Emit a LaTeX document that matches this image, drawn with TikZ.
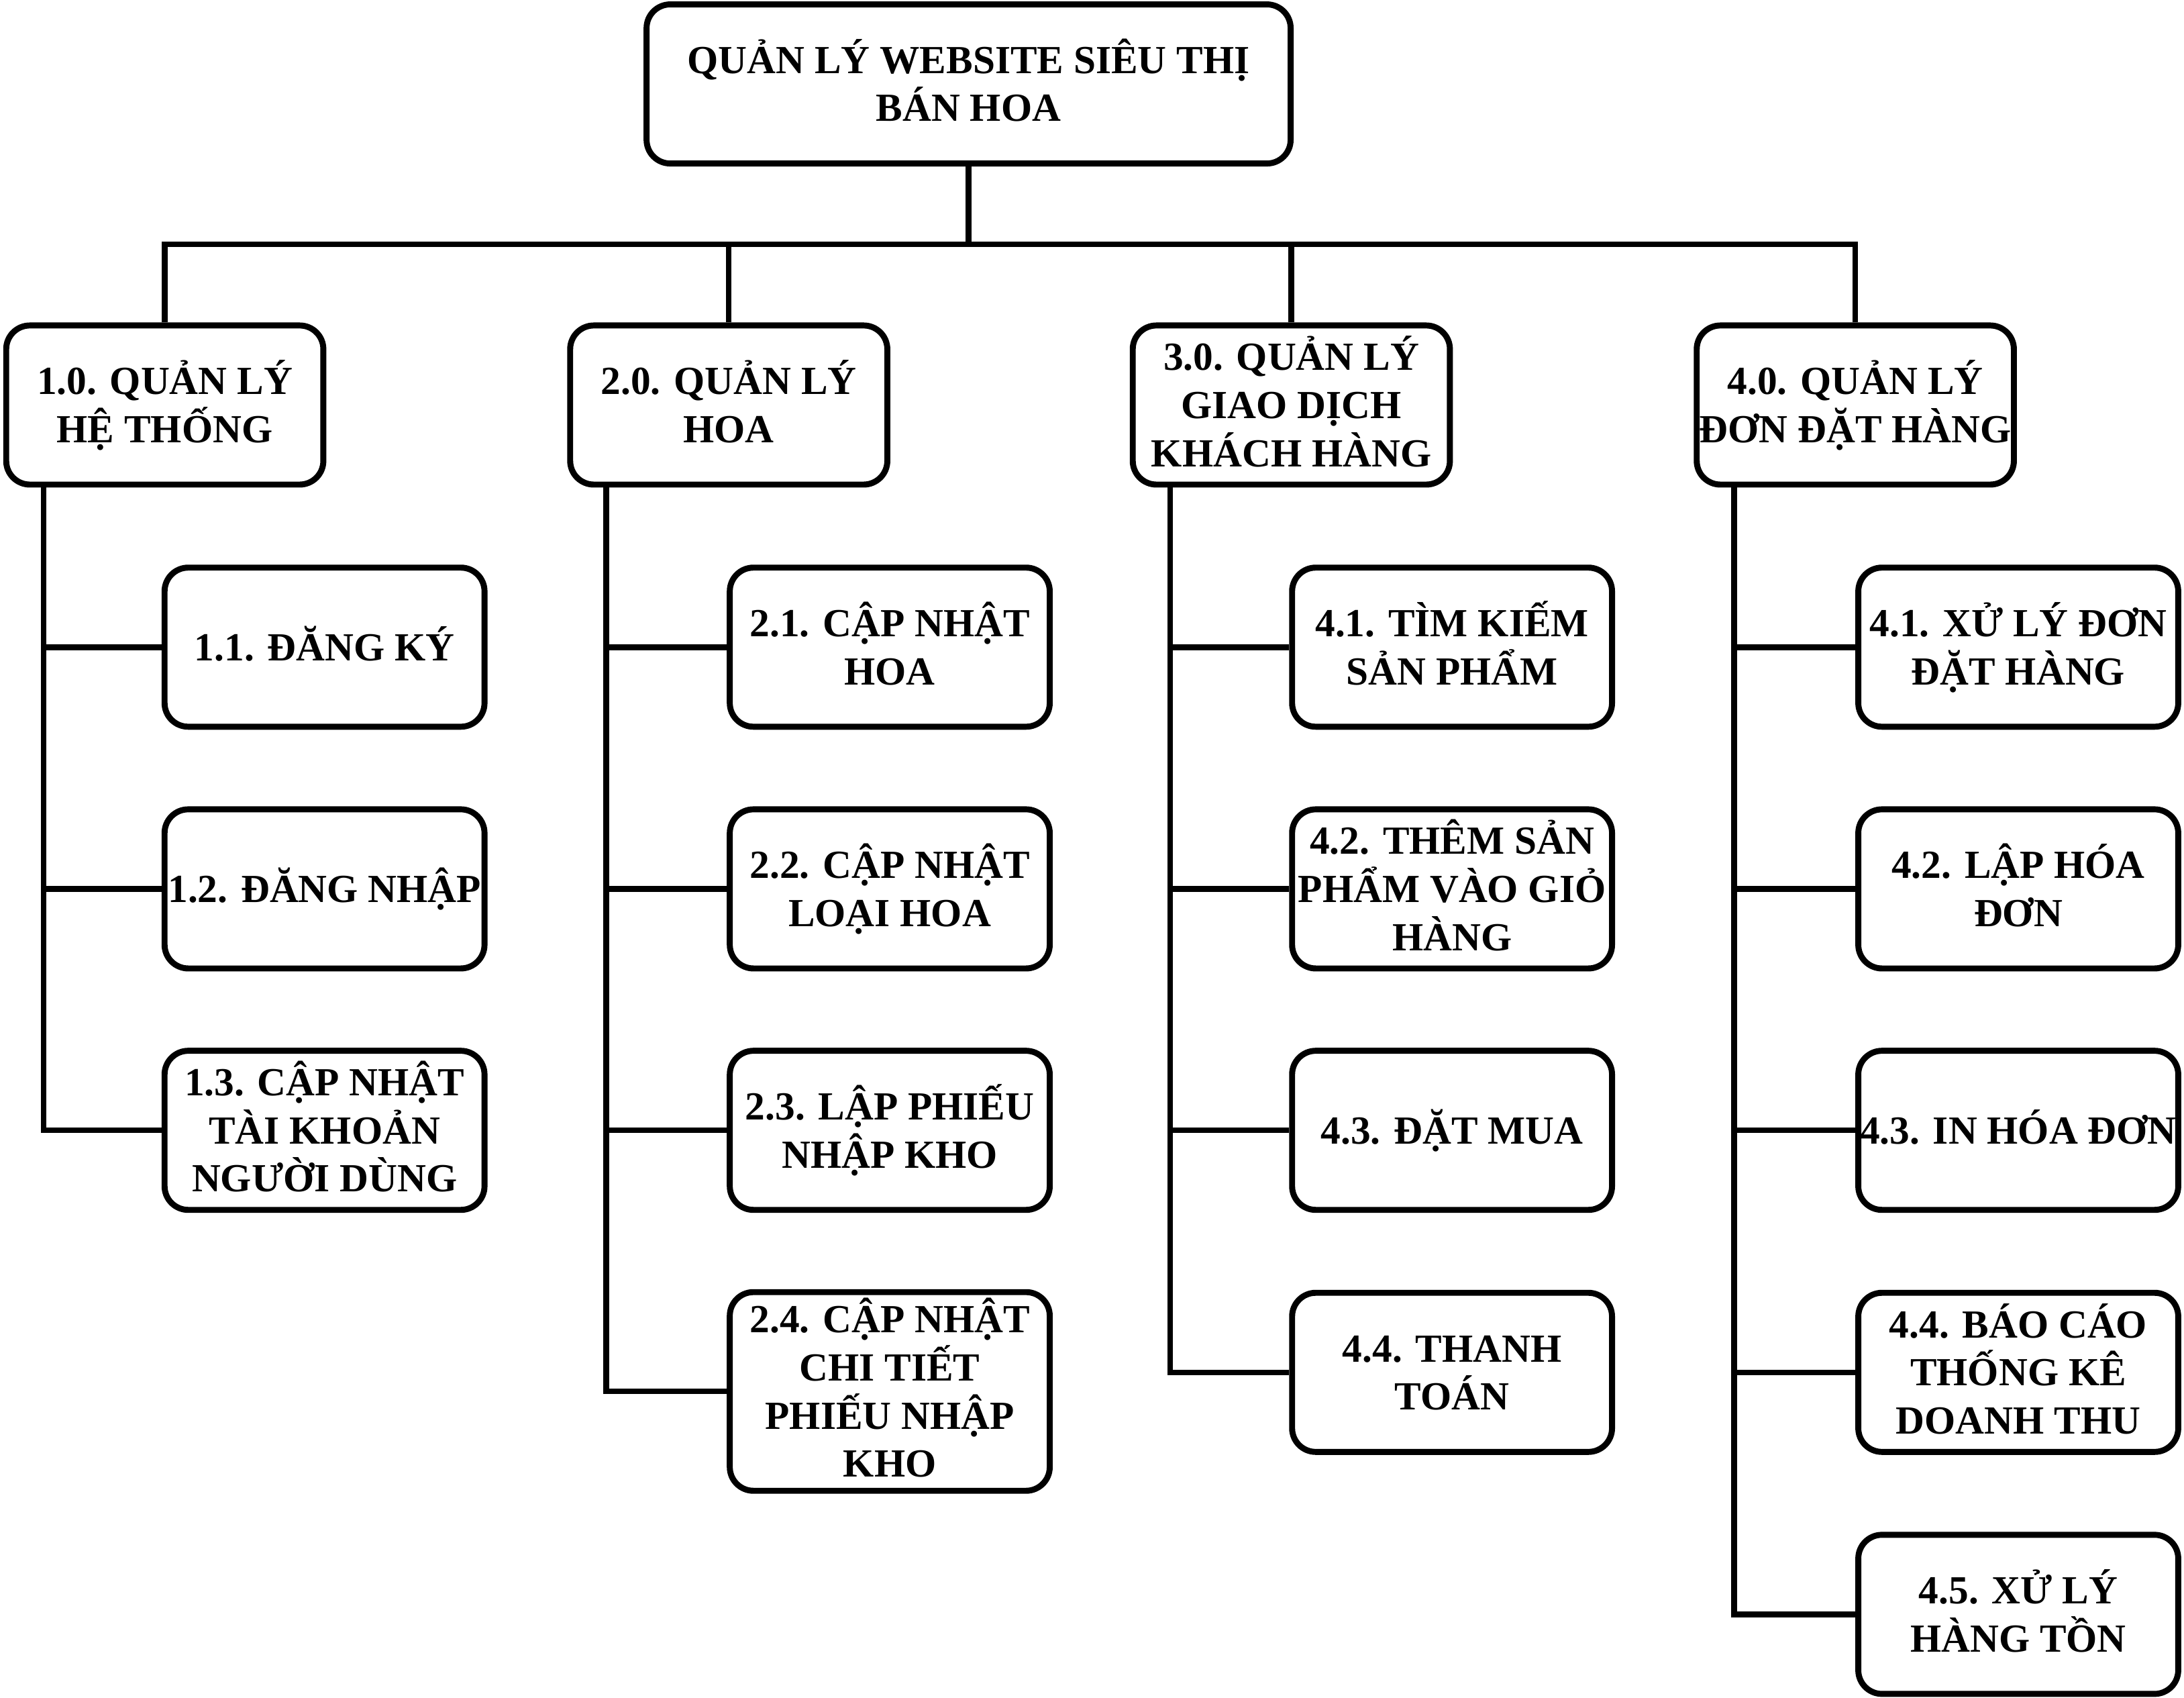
\documentclass[tikz,border=0pt]{standalone}
\usepackage{fontspec}
\setmainfont{Liberation Serif}
\newcommand{\rl}[1]{\rule[-6.2pt]{0pt}{31.7pt}\smash{#1}}
\tikzset{
  box/.style={draw, line width=4.3pt, rounded corners=17pt, align=center,
    inner sep=0pt, font=\fontsize{28.6pt}{34.5pt}\selectfont\bfseries},
  rootbox/.style={box, minimum width=462.4pt, minimum height=114.2pt},
  lvbox/.style={box, minimum width=227.7pt, minimum height=114.2pt},
  cbox/.style={box, minimum width=229.7pt, minimum height=114.2pt},
  link/.style={line width=4.1pt, line join=miter}
}
\begin{document}
\begin{tikzpicture}[x=1pt,y=-1pt]
\useasboundingbox[fill=white] (0,0) rectangle (1568,1218.3);
% root
\node[rootbox] (root) at (695.4,60.25) {\rl{QUẢN LÝ WEBSITE SIÊU THỊ}\\\rl{BÁN HOA}};
% level 1
\node[lvbox] (l1) at (118.3,290.7) {\rl{1.0. QUẢN LÝ}\\\rl{HỆ THỐNG}};
\node[lvbox] (l2) at (523.2,290.7) {\rl{2.0. QUẢN LÝ}\\\rl{HOA}};
\node[lvbox] (l3) at (927.1,290.7) {\rl{3.0. QUẢN LÝ}\\\rl{GIAO DỊCH}\\\rl{KHÁCH HÀNG}};
\node[lvbox] (l4) at (1332,290.7) {\rl{4.0. QUẢN LÝ}\\\rl{ĐƠN ĐẶT HÀNG}};
% column 1
\node[cbox] (c11) at (233,464.5) {\rl{1.1. ĐĂNG KÝ}};
\node[cbox] (c12) at (233,638) {\rl{1.2. ĐĂNG NHẬP}};
\node[cbox] (c13) at (233,811.3) {\rl{1.3. CẬP NHẬT}\\\rl{TÀI KHOẢN}\\\rl{NGƯỜI DÙNG}};
% column 2
\node[cbox] (c21) at (638.8,464.5) {\rl{2.1. CẬP NHẬT}\\\rl{HOA}};
\node[cbox] (c22) at (638.8,638) {\rl{2.2. CẬP NHẬT}\\\rl{LOẠI HOA}};
\node[cbox] (c23) at (638.8,811.3) {\rl{2.3. LẬP PHIẾU}\\\rl{NHẬP KHO}};
\node[cbox, minimum height=142.6pt] (c24) at (638.8,998.7) {\rl{2.4. CẬP NHẬT}\\\rl{CHI TIẾT}\\\rl{PHIẾU NHẬP}\\\rl{KHO}};
% column 3
\node[cbox] (c31) at (1042.5,464.5) {\rl{4.1. TÌM KIẾM}\\\rl{SẢN PHẨM}};
\node[cbox] (c32) at (1042.5,638) {\rl{4.2. THÊM SẢN}\\\rl{PHẨM VÀO GIỎ}\\\rl{HÀNG}};
\node[cbox] (c33) at (1042.5,811.3) {\rl{4.3. ĐẶT MUA}};
\node[cbox] (c34) at (1042.5,985) {\rl{4.4. THANH}\\\rl{TOÁN}};
% column 4
\node[cbox] (c41) at (1449,464.5) {\rl{4.1. XỬ LÝ ĐƠN}\\\rl{ĐẶT HÀNG}};
\node[cbox] (c42) at (1449,638) {\rl{4.2. LẬP HÓA}\\\rl{ĐƠN}};
\node[cbox] (c43) at (1449,811.3) {\rl{4.3. IN HÓA ĐƠN}};
\node[cbox] (c44) at (1449,985) {\rl{4.4. BÁO CÁO}\\\rl{THỐNG KÊ}\\\rl{DOANH THU}};
\node[cbox] (c45) at (1449,1158.7) {\rl{4.5. XỬ LÝ}\\\rl{HÀNG TỒN}};
% bus
\coordinate (bus) at (695.4,175.3);
\draw[link] (root.south) -- (root.south |- bus);
\draw[link] (l1.north) |- (bus) -| (l4.north);
\draw[link] (l2.north) -- (l2.north |- bus);
\draw[link] (l3.north) -- (l3.north |- bus);
% trunks
\coordinate (t1) at ([xshift=-87pt]l1.south);
\coordinate (t2) at ([xshift=-88pt]l2.south);
\coordinate (t3) at ([xshift=-87pt]l3.south);
\coordinate (t4) at ([xshift=-87pt]l4.south);
\draw[link] (t1) |- (c13.west);
\draw[link] (t1 |- c11.west) -- (c11.west);
\draw[link] (t1 |- c12.west) -- (c12.west);
\draw[link] (t2) |- (c24.west);
\draw[link] (t2 |- c21.west) -- (c21.west);
\draw[link] (t2 |- c22.west) -- (c22.west);
\draw[link] (t2 |- c23.west) -- (c23.west);
\draw[link] (t3) |- (c34.west);
\draw[link] (t3 |- c31.west) -- (c31.west);
\draw[link] (t3 |- c32.west) -- (c32.west);
\draw[link] (t3 |- c33.west) -- (c33.west);
\draw[link] (t4) |- (c45.west);
\draw[link] (t4 |- c41.west) -- (c41.west);
\draw[link] (t4 |- c42.west) -- (c42.west);
\draw[link] (t4 |- c43.west) -- (c43.west);
\draw[link] (t4 |- c44.west) -- (c44.west);
\end{tikzpicture}
\end{document}
